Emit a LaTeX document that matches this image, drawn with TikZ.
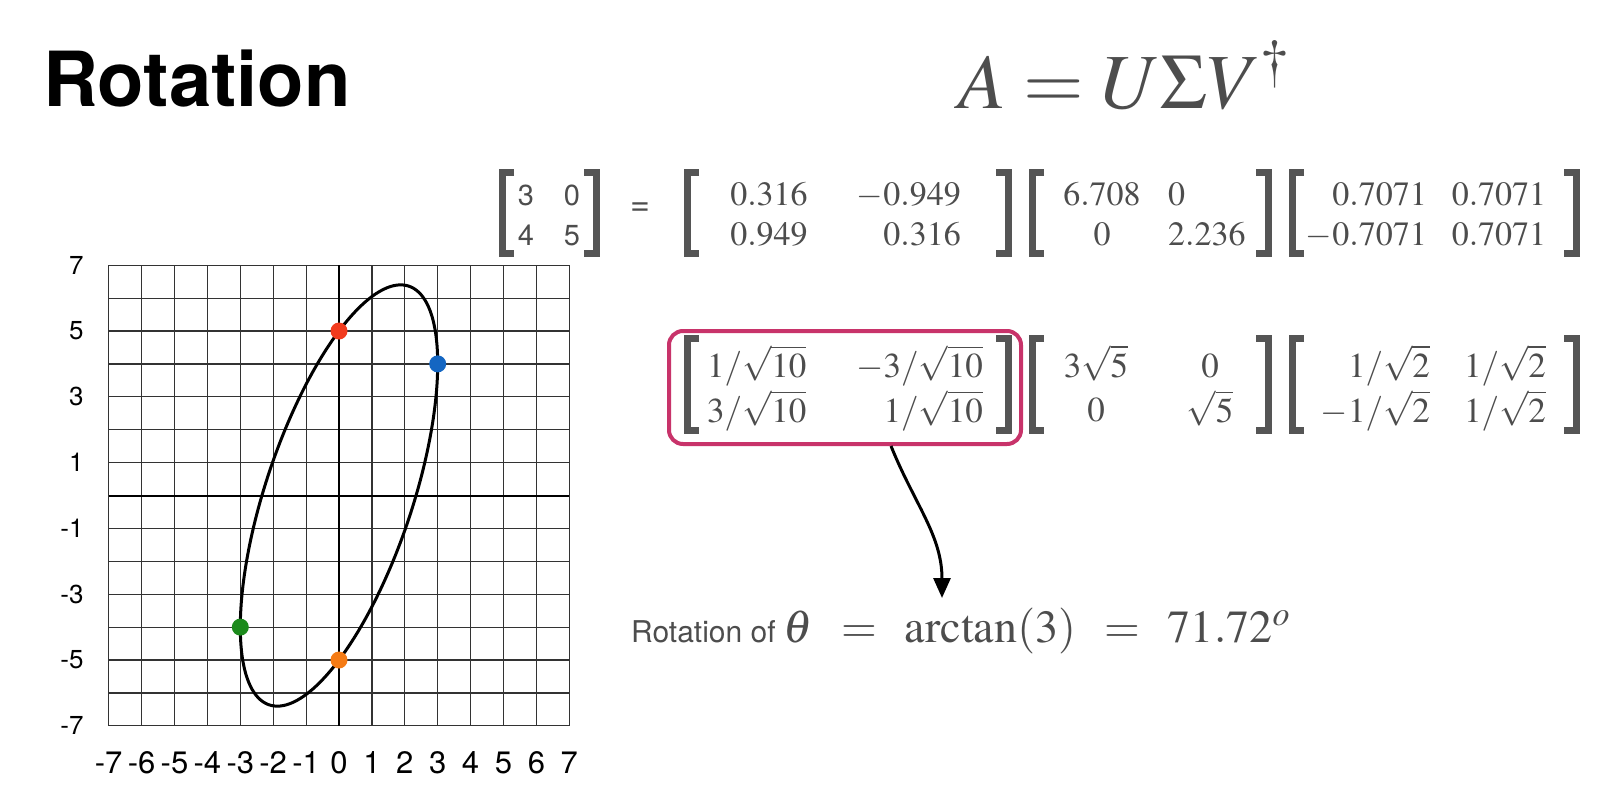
\documentclass[tikz,border=0pt]{standalone}
\usepackage{mathptmx}
\usepackage[no-math]{fontspec}
\newfontfamily\helv{TeX Gyre Heros}
\usetikzlibrary{positioning,arrows.meta,calc}

\definecolor{inkgray}{HTML}{4D4D4D}
\definecolor{brkgray}{HTML}{555555}
\definecolor{boxred}{HTML}{C8336A}
\definecolor{dotred}{HTML}{F23B1E}
\definecolor{dotblue}{HTML}{1466C2}
\definecolor{dotgreen}{HTML}{1C8A1C}
\definecolor{dotorange}{HTML}{F57B14}

\newcommand\fs[2]{\fontsize{#1}{#2}\selectfont}
% square brackets drawn on the sides of an empty box node
\newcommand\brackets[1]{%
  \draw[brk] ([xshift=12pt]#1.north west) -- (#1.north west) -- (#1.south west) -- ([xshift=12pt]#1.south west);
  \draw[brk] ([xshift=-12pt]#1.north east) -- (#1.north east) -- (#1.south east) -- ([xshift=-12pt]#1.south east);}

\begin{document}
\begin{tikzpicture}[
  x=1pt, y=-1pt,
  brk/.style={draw=brkgray, line width=7pt},
  rowA/.style={minimum height=81pt, inner sep=0pt, outer sep=0pt},
  rowB/.style={minimum height=92pt, inner sep=0pt, outer sep=0pt},
  ent/.style={inner sep=0pt, text=inkgray},
  entA/.style={ent, font=\fs{34}{40}},
  entB/.style={ent, font=\fs{35}{44}},
  gridline/.style={draw=black!80, line width=1.2pt},
  axisline/.style={draw=black, line width=2pt},
  dot/.style={circle, fill=#1, minimum size=17pt, inner sep=0pt},
  lab/.style={font=\helv\fs{26}{26}, inner sep=0pt},
  redbox/.style={draw=boxred, line width=4pt, rounded corners=14pt, inner sep=0pt}
]
\useasboundingbox (0,0) rectangle (1615,785);

% heading and the decomposition
\node[anchor=base west, inner sep=0pt] (title) at (43,106) {\helv\bfseries\fs{76}{80}Rotation};
\node[anchor=base west, inner sep=0pt, text=inkgray] (svd) at (958,108) {\fs{78}{78}$A = U\Sigma V^{\dagger}$};

% numeric factors
\node[rowA, minimum width=94pt] (A1) at (549,212.5) {};
\node[rowA, minimum width=321pt] (U1) at (847.5,212.5) {};
\node[rowA, minimum width=236pt] (S1) at (1150,212.5) {};
\node[rowA, minimum width=284pt] (V1) at (1434,212.5) {};
\foreach \m in {A1,U1,S1,V1} {\brackets{\m}}
\node[ent, anchor=base, font=\helv\fs{29}{40}] (a11) at (526,205) {\begin{tabular}[t]{@{}c@{}}3\\4\end{tabular}};
\node[ent, anchor=base, font=\helv\fs{29}{40}] (a12) at (572,205) {\begin{tabular}[t]{@{}c@{}}0\\5\end{tabular}};
\node[ent, font=\helv\fs{34}{34}] (eq) at (640,209) {=};
\node[entA, anchor=base] (u11) at (769,205) {$\begin{array}[t]{@{}c@{}}0.316\\0.949\end{array}$};
\node[entA, anchor=base east] (u12) at (961,205) {$\begin{array}[t]{@{}r@{}}-0.949\\0.316\end{array}$};
\node[entA, anchor=base] (s11) at (1102,205) {$\begin{array}[t]{@{}c@{}}6.708\\0\end{array}$};
\node[entA, anchor=base west] (s12) at (1168,205) {$\begin{array}[t]{@{}l@{}}0\\2.236\end{array}$};
\node[entA, anchor=base east] (v11) at (1427,205) {$\begin{array}[t]{@{}r@{}}0.7071\\-0.7071\end{array}$};
\node[entA, anchor=base] (v12) at (1499,205) {$\begin{array}[t]{@{}c@{}}0.7071\\0.7071\end{array}$};

% exact factors
\node[rowB, minimum width=321pt] (U2) at (847.5,384) {};
\node[rowB, minimum width=236pt] (S2) at (1150,384) {};
\node[rowB, minimum width=284pt] (V2) at (1434,384) {};
\foreach \m in {U2,S2,V2} {\brackets{\m}}
\node[entB, anchor=base west] (u21) at (707,377) {$\begin{array}[t]{@{}l@{}}1/\sqrt{10}\\3/\sqrt{10}\end{array}$};
\node[entB, anchor=base east] (u22) at (983,377) {$\begin{array}[t]{@{}r@{}}-3/\sqrt{10}\\1/\sqrt{10}\end{array}$};
\node[entB, anchor=base] (s21) at (1096,377) {$\begin{array}[t]{@{}c@{}}3\sqrt{5}\\0\end{array}$};
\node[entB, anchor=base] (s22) at (1210,377) {$\begin{array}[t]{@{}c@{}}0\\\sqrt{5}\end{array}$};
\node[entB, anchor=base east] (v21) at (1430,377) {$\begin{array}[t]{@{}r@{}}1/\sqrt{2}\\-1/\sqrt{2}\end{array}$};
\node[entB, anchor=base] (v22) at (1505,377) {$\begin{array}[t]{@{}c@{}}1/\sqrt{2}\\1/\sqrt{2}\end{array}$};
\node[redbox, minimum width=352pt, minimum height=113pt] (rbox) at (845,387.5) {};

% angle read off U
\node[anchor=base west, inner sep=0pt, text=inkgray] (res) at (631,642)
  {\helv\fs{30}{30}Rotation of\hspace{8pt}{\fs{46}{46}\thickmuskip=11mu$\theta = \arctan(3) = 71.72^{o}$}};
\draw[line width=3pt, -{Triangle[length=20pt, width=17pt]}]
  ([xshift=46pt]rbox.south) to[out=-68, in=90] ([xshift=311pt, yshift=44pt]res.base west);

% unit circle mapped by A
\begin{scope}[shift={(339,495.5)}, x=32.9pt, y=32.9pt]
  \draw[gridline, step=1] (-7,-7) grid (7,7);
  \draw[axisline] (-7,0) -- (7,0) (0,-7) -- (0,7);
  \foreach \v in {-7,-5,...,7}
    \node[lab, anchor=east] (y\v) at ([xshift=-25pt]-7,\v) {\v};
  \foreach \v in {-7,...,7}
    \node[lab, font=\helv\fs{31}{31}] (x\v) at ([yshift=-37pt]\v,-7) {\v};
  \draw[line width=3pt] plot[domain=0:360, samples=160, smooth cycle] ({3*cos(\x)}, {4*cos(\x)+5*sin(\x)});
  \node[dot=dotblue] (pb) at (3,4) {};
  \node[dot=dotred] (pr) at (0,5) {};
  \node[dot=dotgreen] (pg) at (-3,-4) {};
  \node[dot=dotorange] (po) at (0,-5) {};
\end{scope}
\end{tikzpicture}
\end{document}
